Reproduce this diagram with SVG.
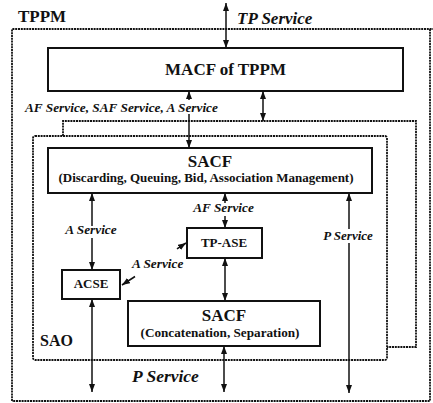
<svg xmlns="http://www.w3.org/2000/svg" width="433" height="403" viewBox="0 0 433 403">
<style>
  .box{fill:#fff;stroke:#111;stroke-width:2}
  .dot{fill:none;stroke:#111;stroke-width:1.8;stroke-dasharray:2 0.8}
  .ln{stroke:#111;stroke-width:1.5;fill:none}
  .s{marker-start:url(#ah)}
  .e{marker-end:url(#ah)}
  .t{font-family:"Liberation Serif","Times New Roman",serif;font-weight:bold;fill:#111}
  .i{font-family:"Liberation Serif","Times New Roman",serif;font-weight:bold;font-style:italic;fill:#111}
  .m{text-anchor:middle}
</style>
<defs>
  <marker id="ah" viewBox="0 0 8 6" refX="8" refY="3" markerWidth="8" markerHeight="6" orient="auto-start-reverse" markerUnits="userSpaceOnUse">
    <path d="M0,0 L8,3 L0,6 z" fill="#111"/>
  </marker>
</defs>
<rect width="433" height="403" fill="#fff"/>

<g id="tppm">
  <path class="dot" d="M12,401 V29 H433 M430,29 V401 H12"/>
  <text class="t" x="18" y="22" font-size="17">TPPM</text>
</g>

<g id="sao-back">
  <path class="dot" d="M63,136 V121 H416 V347 H387"/>
</g>
<g id="sao">
  <rect class="dot" x="33" y="136" width="354" height="224" rx="2"/>
  <text class="t" x="40" y="346" font-size="16">SAO</text>
</g>

<g id="macf">
  <rect class="box" x="48" y="48" width="355" height="43"/>
  <text class="t m" x="225.5" y="75" font-size="17">MACF of TPPM</text>
</g>

<g id="sacf-upper">
  <rect class="box" x="48" y="148" width="324" height="45"/>
  <text class="t m" x="210" y="167" font-size="17">SACF</text>
  <text class="t m" x="206" y="182" font-size="13">(Discarding, Queuing, Bid, Association Management)</text>
</g>

<g id="tpase">
  <rect class="box" x="187" y="228" width="75" height="30"/>
  <text class="t m" x="224" y="247" font-size="13">TP-ASE</text>
</g>

<g id="acse">
  <rect class="box" x="62" y="270" width="58" height="29"/>
  <text class="t m" x="91" y="288" font-size="13">ACSE</text>
</g>

<g id="sacf-lower">
  <rect class="box" x="128" y="301" width="192" height="45"/>
  <text class="t m" x="224" y="321" font-size="17">SACF</text>
  <text class="t m" x="220" y="337" font-size="13.2">(Concatenation, Separation)</text>
</g>

<g id="connectors">
  <!-- TP Service -->
  <line class="ln s e" x1="226" y1="3" x2="226" y2="48"/>
  <!-- MACF to SACF -->
  <line class="ln s" x1="189" y1="91" x2="189" y2="100"/>
  <line class="ln e" x1="189" y1="114" x2="189" y2="148"/>
  <!-- MACF to SAO back -->
  <line class="ln s e" x1="263" y1="91" x2="263" y2="121"/>
  <!-- A Service SACF-ACSE -->
  <line class="ln s" x1="92" y1="193" x2="92" y2="226"/>
  <line class="ln e" x1="92" y1="238" x2="92" y2="270"/>
  <!-- AF Service -->
  <line class="ln s" x1="225" y1="193" x2="225" y2="203"/>
  <line class="ln e" x1="225" y1="216" x2="225" y2="228"/>
  <!-- P Service -->
  <line class="ln s" x1="349" y1="193" x2="349" y2="229"/>
  <line class="ln e" x1="349" y1="243" x2="349" y2="393"/>
  <!-- TP-ASE to lower SACF -->
  <line class="ln s e" x1="225" y1="258" x2="225" y2="301"/>
  <!-- lower SACF down -->
  <line class="ln s e" x1="224" y1="346" x2="224" y2="392"/>
  <!-- ACSE down -->
  <line class="ln s e" x1="92" y1="299" x2="92" y2="392"/>
  <!-- diagonal A Service -->
  <line class="ln s" x1="122" y1="285" x2="135" y2="276.5"/>
  <line class="ln e" x1="177" y1="248.9" x2="186" y2="243"/>

  <text class="i" x="237" y="24" font-size="17">TP Service</text>
  <text class="i" x="25" y="112" font-size="13.3">AF Service, SAF Service, A Service</text>
  <text class="i m" x="91" y="234" font-size="13.3">A Service</text>
  <text class="i m" x="223.5" y="212" font-size="13.3">AF Service</text>
  <text class="i m" x="348" y="240" font-size="13">P Service</text>
  <text class="i" x="132" y="268" font-size="13.3">A Service</text>
  <text class="i" x="132" y="382" font-size="17.5">P Service</text>
</g>
</svg>
